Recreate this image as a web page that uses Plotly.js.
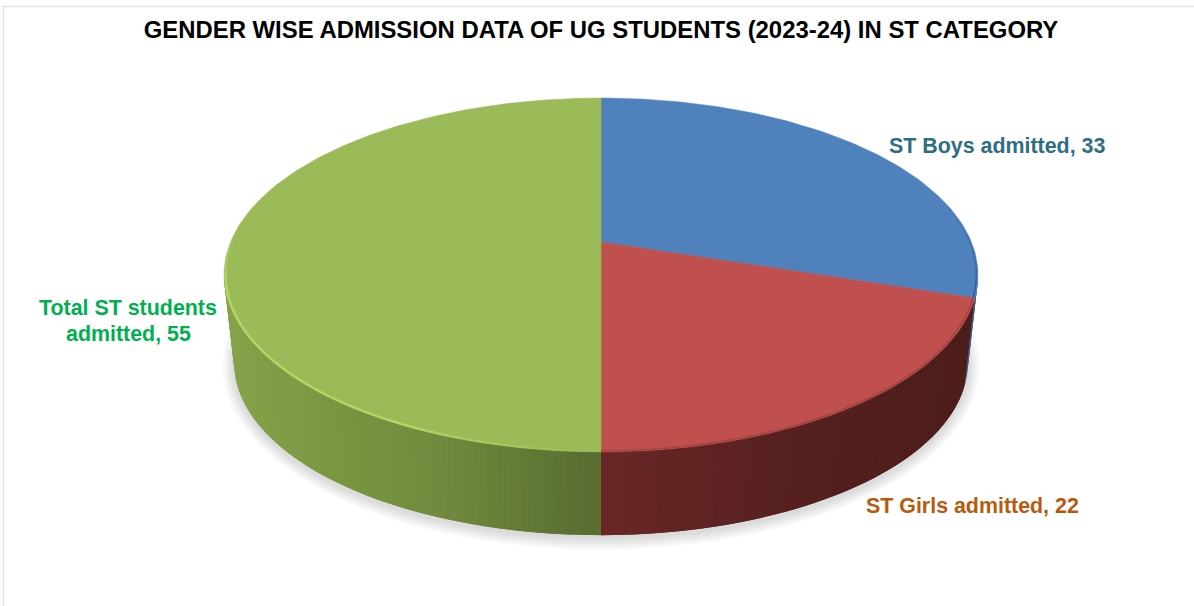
<!DOCTYPE html>
<html>
<head>
<meta charset="utf-8">
<script src="https://cdn.plot.ly/plotly-3.0.1.min.js"></script>
<style>html,body{margin:0;padding:0;background:#fff}#chart{width:1194px;height:606px}</style>
</head>
<body>
<div id="chart"></div>
<script>
// Admission counts for the ST category
const categories = ["ST Boys admitted", "ST Girls admitted", "Total ST students admitted"];
const values = [33, 22, 55];
const chartTitle = "GENDER WISE ADMISSION DATA OF UG STUDENTS (2023-24) IN ST CATEGORY";

// Pie face and wall colours, wall colours are stops running left to right
const faceColors = ["#4f81bd", "#bf504d", "#9abb58"];
const wallStops = [
  [[0, [55, 94, 145]], [1, [55, 94, 145]]],
  [[0, [107, 39, 39]], [0.3, [95, 35, 34]], [0.6, [83, 32, 30]], [1, [77, 29, 27]]],
  [[0, [134, 163, 75]], [0.3, [122, 150, 65]], [0.6, [113, 138, 62]], [1, [89, 109, 48]]]
];

// Perspective disc: pole position, radii and tilt strength
const CX = 601, POLE_Y = 242, RX = 370.4, RY = 170.8, TILT = 0.1864;
const TOP_MID_Y = 275, BASE_MID_Y = 363, BASE_SCALE = 0.973;

// theta is degrees clockwise from the back of the disc; r is the radial fraction
function topPoint(theta, r) {
  const a = theta * Math.PI / 180;
  const u = r * Math.sin(a), v = r * Math.cos(a), w = 1 + TILT * v;
  return [CX + RX * u / w, POLE_Y - RY * v / w];
}
function basePoint(theta) {
  const p = topPoint(theta, 1);
  return [CX + BASE_SCALE * (p[0] - CX), BASE_MID_Y + BASE_SCALE * (p[1] - TOP_MID_Y)];
}
function lerpStops(stops, f) {
  for (let i = 1; i < stops.length; i++) {
    if (f <= stops[i][0]) {
      const s = stops[i - 1], e = stops[i], q = (f - s[0]) / (e[0] - s[0]);
      const c = s[1].map((n, k) => Math.round(n + (e[1][k] - n) * q));
      return `rgb(${c[0]},${c[1]},${c[2]})`;
    }
  }
  const c = stops[stops.length - 1][1];
  return `rgb(${c[0]},${c[1]},${c[2]})`;
}
function polygon(points, color, lineWidth) {
  return {
    type: "scatter", mode: "lines", x: points.map(p => p[0]), y: points.map(p => p[1]),
    fill: "toself", fillcolor: color, line: {color: color, width: lineWidth},
    hoverinfo: "skip", showlegend: false
  };
}
function stroke(points, color, width) {
  return {
    type: "scatter", mode: "lines", x: points.map(p => p[0]), y: points.map(p => p[1]),
    line: {color: color, width: width}, hoverinfo: "skip", showlegend: false
  };
}

const total = values.reduce((a, b) => a + b, 0);
const spans = [];
values.reduce((start, v) => {
  const end = start + v / total * 360;
  spans.push([start, end]);
  return end;
}, 0);

const traces = [];

// Soft drop shadow under the base
for (let d = 12; d >= 1; d--) {
  const pts = [];
  for (let t = 0; t <= 360; t += 3) {
    const p = basePoint(t);
    pts.push([CX + (p[0] - CX) * (1 + d / 367), BASE_MID_Y + 3 + (p[1] - BASE_MID_Y) * (1 + d / 172)]);
  }
  traces.push({
    type: "scatter", mode: "lines", x: pts.map(p => p[0]), y: pts.map(p => p[1]),
    fill: "toself", fillcolor: "rgba(80,80,80,0.014)", line: {width: 0},
    hoverinfo: "skip", showlegend: false
  });
}

// Side wall, split into strips so the shading can vary along the rim.
// Strips overlap the next one, which keeps seams from showing.
const wallFrom = 90 + Math.asin(TILT) * 180 / Math.PI;
const wallTo = 270 - Math.asin(TILT) * 180 / Math.PI;
const STEP = 1.5;
spans.forEach((span, i) => {
  const from = Math.max(span[0], wallFrom), to = Math.min(span[1], wallTo);
  if (to <= from) return;
  const xa = topPoint(from, 1)[0], xb = topPoint(to, 1)[0];
  const lo = Math.min(xa, xb), width = Math.abs(xb - xa);
  for (let t = to - STEP; t > from - STEP; t -= STEP) {
    const s = Math.max(t, from), e = Math.min(t + 2 * STEP, to);
    const pts = [topPoint(s, 1), topPoint(e, 1), basePoint(e), basePoint(s)];
    pts.push(pts[0]);
    const f = (topPoint(s + STEP / 2, 1)[0] - lo) / width;
    traces.push(polygon(pts, lerpStops(wallStops[i], Math.min(1, Math.max(0, f))), 0));
  }
});

// Top face sectors, drawn from the values
spans.forEach((span, i) => {
  const pts = [topPoint(0, 0)];
  for (let t = span[0]; t < span[1]; t += 1) pts.push(topPoint(t, 1));
  pts.push(topPoint(span[1], 1), topPoint(0, 0));
  traces.push(polygon(pts, faceColors[i], 0.5));
});

// Bevel along the rim of the top face
function rim(from, to, colorAt, width) {
  for (let t = from; t < to; t += 3) {
    traces.push(stroke([topPoint(t, 0.996), topPoint(Math.min(t + 3, to), 0.996)], colorAt(t), width));
  }
}
rim(180, 272, t => {
  const a = t < 205 ? (t - 180) / 25 : (t > 255 ? Math.max(0, (272 - t) / 17) : 1);
  return `rgba(186,222,100,${(0.8 * a).toFixed(3)})`;
}, 2.2);
rim(108, 180, () => "rgba(112,44,43,0.35)", 1.6);
rim(75, 108, t => `rgba(45,80,130,${((t - 75) / 33 * 0.8).toFixed(3)})`, 1.6);

const labelFont = c => ({family: "Liberation Sans, Arial, sans-serif", size: 21.4, color: c});
const totalWords = categories[2].split(" admitted")[0];
const annotations = [
  {x: 997, y: 146, text: `${categories[0]}, ${values[0]}`, font: labelFont("#2e6e83")},
  {x: 972, y: 505.5, text: `${categories[1]}, ${values[1]}`, font: labelFont("#b8590e")},
  {x: 128, y: 308, text: totalWords, font: labelFont("#00b050")},
  {x: 128, y: 333.5, text: `admitted, ${values[2]}`, font: labelFont("#00b050")}
].map(a => ({
  ...a, text: `<b>${a.text}</b>`,
  xref: "x", yref: "y", showarrow: false, xanchor: "center", yanchor: "middle", align: "center"
}));

const layout = {
  width: 1194, height: 606,
  margin: {l: 0, r: 0, t: 0, b: 0},
  paper_bgcolor: "#ffffff", plot_bgcolor: "#ffffff",
  showlegend: false,
  title: {
    text: `<b>${chartTitle}</b>`, x: 601 / 1194, xanchor: "center", y: 1 - 30 / 606, yanchor: "middle",
    font: {family: "Liberation Sans, Arial, sans-serif", size: 23.9, color: "#000000"}
  },
  xaxis: {range: [0, 1194], visible: false, fixedrange: true},
  yaxis: {range: [606, 0], visible: false, fixedrange: true},
  shapes: [
    {type: "line", xref: "x", yref: "y", x0: 3.5, x1: 3.5, y0: 6, y1: 606, line: {color: "#e2e2e2", width: 1.5}},
    {type: "line", xref: "x", yref: "y", x0: 3, x1: 1194, y0: 6.5, y1: 6.5, line: {color: "#e2e2e2", width: 1.5}}
  ],
  annotations: annotations
};

Plotly.newPlot("chart", traces, layout, {displayModeBar: false, responsive: false});
</script>
</body>
</html>
